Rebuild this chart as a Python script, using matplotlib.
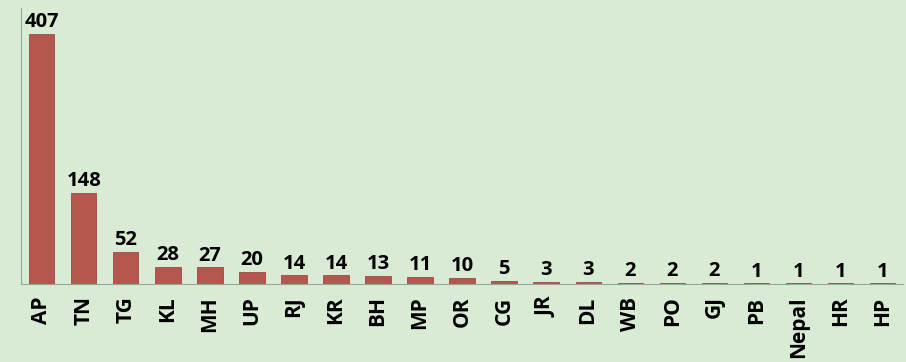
import matplotlib.pyplot as plt
import numpy as np

states = ['AP', 'TN', 'TG', 'KL', 'MH', 'UP', 'RJ', 'KR', 'BH', 'MP', 'OR',
          'CG', 'JR', 'DL', 'WB', 'PO', 'GJ', 'PB', 'Nepal', 'HR', 'HP']
counts = [407, 148, 52, 28, 27, 20, 14, 14, 13, 11, 10, 5, 3, 3, 2, 2, 2, 1, 1, 1, 1]

bg = '#d9ebd4'
fig = plt.figure(figsize=(9.06, 3.62), dpi=100, facecolor=bg)
ax = fig.add_axes([0.023, 0.2155, 0.974, 0.7625])
ax.set_facecolor(bg)

x = np.arange(len(states))
bars = ax.bar(x, counts, width=0.6, color='#b5574e', edgecolor='#9c4a42', linewidth=0.6)

for xi, v in zip(x, counts):
    ax.text(xi, v + 3, str(v), ha='center', va='bottom', fontsize=14.5,
            fontweight='bold', family='Open Sans', color='black')

ax.set_xlim(-0.5, len(states) - 0.5)
ax.set_ylim(0, 450)
ax.set_xticks(x)
ax.set_xticklabels(states, rotation=90, fontsize=15, fontweight='bold', family='Open Sans')
ax.tick_params(axis='x', length=0, pad=9)
ax.set_yticks([])
for s in ['top', 'right']:
    ax.spines[s].set_visible(False)
ax.spines['left'].set_color('#9aa59a')
ax.spines['bottom'].set_color('#9aa59a')

plt.savefig('out.png', dpi=100, facecolor=bg)
